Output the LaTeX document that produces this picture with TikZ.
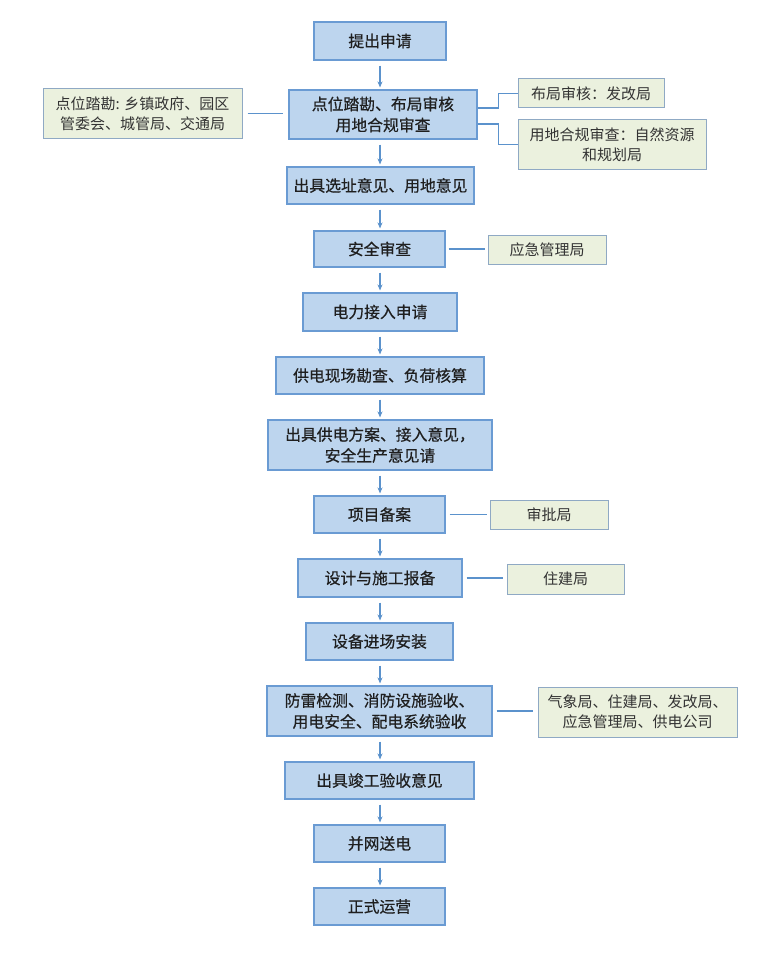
\documentclass[tikz,border=0pt]{standalone}
\usepackage{fontspec}
\newfontfamily\cjk{Noto Sans CJK SC}
\newfontfamily\cjkstep[FakeBold=0.6]{Noto Sans CJK SC}
\usetikzlibrary{arrows.meta}
\definecolor{stepfill}{HTML}{BDD5EE}
\definecolor{stepline}{HTML}{6A9BD3}
\definecolor{deptfill}{HTML}{EBF1DE}
\definecolor{deptline}{HTML}{8FA9C4}
\definecolor{linkline}{HTML}{5B92CC}
\tikzset{
  stepbox/.style={draw=stepline, fill=stepfill, line width=1.1pt, inner sep=0pt,
    align=center, font=\cjkstep\fontsize{15.8}{21}\selectfont, text=black!88},
  deptbox/.style={draw=deptline, fill=deptfill, line width=1pt, inner sep=0pt,
    align=center, font=\cjk\fontsize{15}{20}\selectfont, text=black!80},
  flow/.style={draw=linkline, line width=1.1pt, -{Stealth[length=6pt,width=5pt]},
    shorten <=5pt, shorten >=2pt},
  link/.style={draw=linkline, line width=1.1pt},
}
\begin{document}
\begin{tikzpicture}[x=1pt,y=-1pt]
\useasboundingbox (0,0) rectangle (760,955);
\fill[white] (0,0) rectangle (760,955);

% main process steps
\node[stepbox, minimum width=132pt, minimum height=38pt] (s1) at (380,41) {提出申请};
\node[stepbox, minimum width=188pt, minimum height=49pt] (s2) at (383,114.5) {点位踏勘、布局审核\\用地合规审查};
\node[stepbox, minimum width=187pt, minimum height=37pt] (s3) at (380.5,185.5) {出具选址意见、用地意见};
\node[stepbox, minimum width=131pt, minimum height=36pt] (s4) at (379.5,249) {安全审查};
\node[stepbox, minimum width=154pt, minimum height=38pt] (s5) at (380,312) {电力接入申请};
\node[stepbox, minimum width=208pt, minimum height=37pt] (s6) at (380,375.5) {供电现场勘查、负荷核算};
\node[stepbox, minimum width=224pt, minimum height=50pt] (s7) at (380,445) {出具供电方案、接入意见，\\安全生产意见请};
\node[stepbox, minimum width=131pt, minimum height=37pt] (s8) at (379.5,514.5) {项目备案};
\node[stepbox, minimum width=164pt, minimum height=38pt] (s9) at (380,578) {设计与施工报备};
\node[stepbox, minimum width=147pt, minimum height=37pt] (s10) at (379.5,641.5) {设备进场安装};
\node[stepbox, minimum width=225pt, minimum height=50pt] (s11) at (379.5,711) {防雷检测、消防设施验收、\\用电安全、配电系统验收};
\node[stepbox, minimum width=189pt, minimum height=37pt] (s12) at (379.5,780.5) {出具竣工验收意见};
\node[stepbox, minimum width=131pt, minimum height=37pt] (s13) at (379.5,843.5) {并网送电};
\node[stepbox, minimum width=131pt, minimum height=37pt] (s14) at (379.5,906.5) {正式运营};

% responsible departments
\node[deptbox, minimum width=199pt, minimum height=49pt] (dl) at (142.5,113.5) {点位踏勘: 乡镇政府、园区\\管委会、城管局、交通局};
\node[deptbox, minimum width=146pt, minimum height=29pt] (dr1) at (591,93.5) {布局审核：发改局};
\node[deptbox, minimum width=188pt, minimum height=49pt] (dr2) at (612,144.5) {用地合规审查：自然资源\\和规划局};
\node[deptbox, minimum width=118pt, minimum height=29pt] (d4) at (547,249.5) {应急管理局};
\node[deptbox, minimum width=118pt, minimum height=29pt] (d8) at (549,514.5) {审批局};
\node[deptbox, minimum width=117pt, minimum height=30pt] (d9) at (565.5,579) {住建局};
\node[deptbox, minimum width=199pt, minimum height=50pt] (d11) at (637.5,712) {气象局、住建局、发改局、\\应急管理局、供电公司};

% flow arrows
\foreach \a/\b in {s1/s2,s2/s3,s3/s4,s4/s5,s5/s6,s6/s7,s7/s8,s8/s9,s9/s10,s10/s11,s11/s12,s12/s13,s13/s14}
  \draw[flow] (\a.south -| s1.south) -- (\b.north -| s1.south);

% department links
\draw[link, shorten <=5pt, shorten >=5pt] (dl.east) -- (dl.east -| s2.west);
\draw[link] ([yshift=6.5pt]s2.east) -- ++(21,0) |- (dr1.west);
\draw[link] ([yshift=-9.5pt]s2.east) -- ++(21,0) |- (dr2.west);
\draw[link, shorten <=3pt, shorten >=3pt] (s4.east) -- (s4.east -| d4.west);
\draw[link, shorten <=4pt, shorten >=3pt] (s8.east) -- (s8.east -| d8.west);
\draw[link, shorten <=4pt, shorten >=4pt] (s9.east) -- (s9.east -| d9.west);
\draw[link, shorten <=4pt, shorten >=5pt] (s11.east) -- (s11.east -| d11.west);
\end{tikzpicture}
\end{document}
